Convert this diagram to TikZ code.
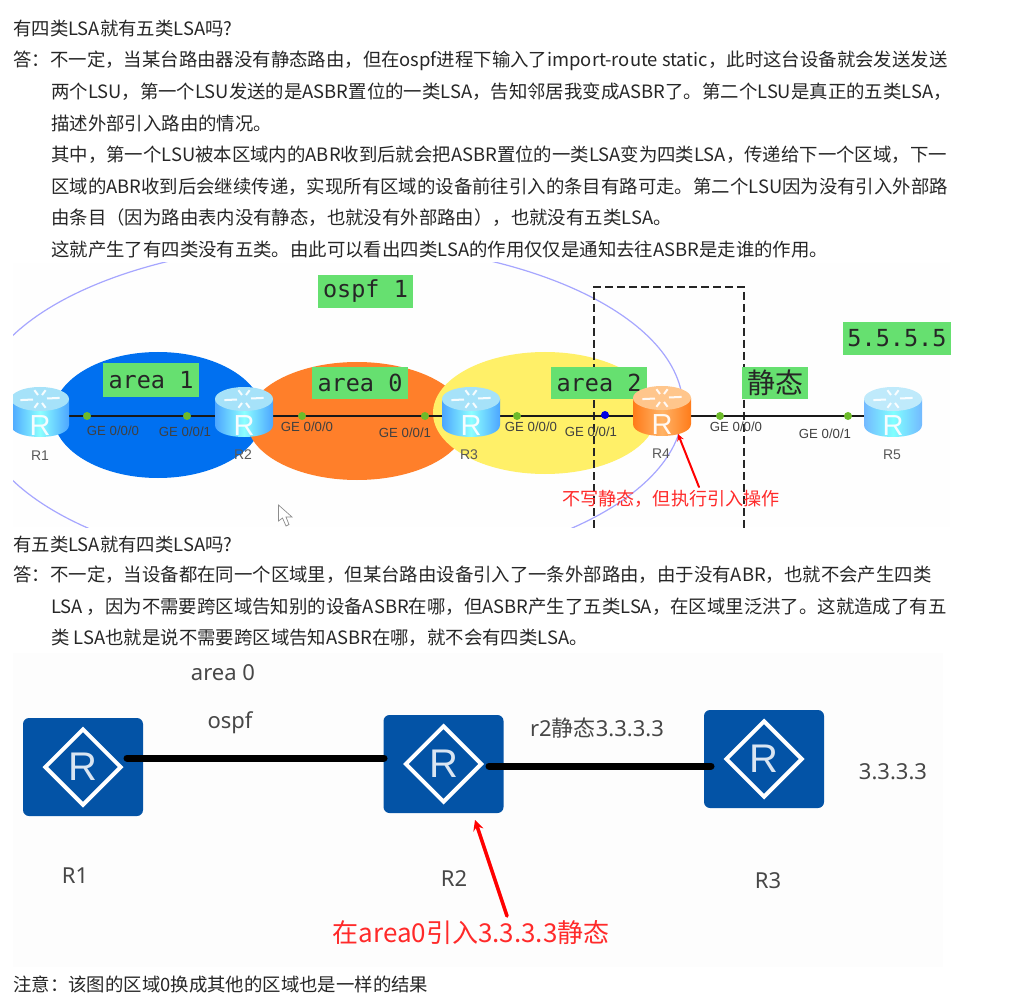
\documentclass[tikz,border=0pt]{standalone}
\usepackage{fontspec}
\setmainfont{Noto Sans CJK SC}
\newfontfamily\monofont{DejaVu Sans Mono}
\newfontfamily\arialfont{Liberation Sans}
\newfontfamily\labelfont{Noto Sans}
\usetikzlibrary{shapes.geometric}

\definecolor{tagGreen}{HTML}{66E070}
\definecolor{boxBlue}{HTML}{0353A6}
\definecolor{noteRed}{HTML}{FF2A2A}
\definecolor{dotGreen}{HTML}{6DBB2A}
\definecolor{areaBlue}{HTML}{0070F0}
\definecolor{areaOrange}{HTML}{FF7F2A}
\definecolor{areaYellow}{HTML}{FFF068}

\tikzset{
    bodyline/.style={font=\fontsize{18.4}{22}\selectfont, anchor=base west, inner sep=0pt, text=black!85},
    tag/.style={fill=tagGreen, inner sep=0pt, font=\monofont\fontsize{23.5}{26}\selectfont, text=black!85},
    portlabel/.style={font=\arialfont\fontsize{13.2}{15}\selectfont, inner sep=0pt, text=black!75},
    hostlabel/.style={font=\arialfont\fontsize{14}{16}\selectfont, inner sep=0pt, text=black!65},
    portdot/.style={circle, fill=dotGreen, minimum size=8pt, inner sep=0pt},
    bigtext/.style={font=\labelfont\fontsize{22}{26}\selectfont, inner sep=0pt, text=black!72},
    bluebox/.style={fill=boxBlue, rounded corners=6pt, minimum width=120pt, minimum height=98pt, inner sep=0pt},
    whitediamond/.style={diamond, draw=white, line width=4pt, aspect=1, minimum size=77pt, inner sep=0pt,
        text=white!85!boxBlue, font=\arialfont\fontsize{40}{42}\selectfont},
    redarrow/.style={<-, >=stealth, draw=red, line cap=round},
    pics/disk/.style n args={3}{code={
        \shade[left color=#2, right color=#2, middle color=#3]
            (-29,0)--(-29,26) .. controls (-29,42) and (29,42) .. (29,26)--(29,0)--cycle;
        \fill[#1] (0,0) ellipse [x radius=29, y radius=12];
        \foreach \a/\b in {-4/-8, 4/8, 4/-8, -4/8, -14/1, 14/-1}
            \draw[white!90!#1, line width=2pt] (\a*0.5,\b*0.5)--(\a*1.4,\b*1.1);
        \node[inner sep=0pt, text=white!92!#3, font=\arialfont\fontsize{29}{31}\selectfont] (-glyph) at (0,27) {R};
    }},
}

\begin{document}
\begin{tikzpicture}[x=1pt, y=-1pt]
    \useasboundingbox (0,0) rectangle (1018,1008);

    % text above the first picture
    \node[bodyline] (q1) at (13,35.5) {有四类LSA就有五类LSA吗?};
    \node[bodyline] (a1) at (13,66.5) {答：};
    \node[bodyline] (l1) at (50,66.5) {不一定，当某台路由器没有静态路由，但在ospf进程下输入了import-route static，此时这台设备就会发送发送};
    \node[bodyline] (l2) at (51,98.5) {两个LSU，第一个LSU发送的是ASBR置位的一类LSA，告知邻居我变成ASBR了。第二个LSU是真正的五类LSA，};
    \node[bodyline] (l3) at (51,130.5) {描述外部引入路由的情况。};
    \node[bodyline] (l4) at (51,161.5) {其中，第一个LSU被本区域内的ABR收到后就会把ASBR置位的一类LSA变为四类LSA，传递给下一个区域，下一};
    \node[bodyline] (l5) at (51,193.5) {区域的ABR收到后会继续传递，实现所有区域的设备前往引入的条目有路可走。第二个LSU因为没有引入外部路};
    \node[bodyline] (l6) at (51,224.5) {由条目（因为路由表内没有静态，也就没有外部路由），也就没有五类LSA。};
    \node[bodyline] (l7) at (51,256.5) {这就产生了有四类没有五类。由此可以看出四类LSA的作用仅仅是通知去往ASBR是走谁的作用。};

    % first picture
    \fill[black!0.4] (13,263) rectangle (950,527);
    \begin{scope}
        \clip (13,263) rectangle (951,527);
        \draw[blue!35!white, line width=1.2pt] (330,408) ellipse [x radius=353, y radius=165];
        \fill[areaBlue] (158,415) ellipse [x radius=105, y radius=63];
        \fill[areaOrange] (357,421) ellipse [x radius=110, y radius=59];
        \fill[areaYellow] (545,413) ellipse [x radius=112, y radius=61];

        \draw[line width=2.6pt, black!85, dash pattern=on 8pt off 4pt] (594,540)--(594,287)--(744,287)--(744,540);

        \coordinate (R1) at (40,416);
        \coordinate (R2) at (244,416);
        \coordinate (R3) at (471,416);
        \coordinate (R4) at (662,416);
        \coordinate (R5) at (893,416);
        \draw[line width=2.2pt, black!90] (R1)--(R2)--(R3)--(R4)--(R5);

        \foreach \px/\pname in {87/d1, 187/d2, 302/d3, 425/d4, 517/d5, 720/d6, 848/d7}
            \node[portdot] (\pname) at (\px,416) {};
        \node[portdot, fill=blue!90!black] (d8) at (605,415) {};

        \pic (r1) at (40,399) {disk={cyan!35!white}{cyan!50!blue!70!white}{cyan!45!white}};
        \pic (r2) at (244,399) {disk={cyan!35!white}{cyan!50!blue!70!white}{cyan!45!white}};
        \pic (r3) at (471,399) {disk={cyan!35!white}{cyan!50!blue!70!white}{cyan!45!white}};
        \pic (r5) at (893,399) {disk={cyan!25!white}{cyan!50!blue!55!white}{cyan!50!white}};
    \end{scope}

    \node[tag, minimum width=95pt, minimum height=33pt] (ospf) at (365.5,291.5) {ospf 1};
    \node[tag, minimum width=96pt, minimum height=34pt] (area1) at (151,380) {area 1};
    \node[tag, minimum width=96pt, minimum height=32pt] (area0) at (360,383) {area 0};
    \node[tag, minimum width=96pt, minimum height=32pt] (area2) at (599,383) {area 2};
    \node[tag, minimum width=66pt, minimum height=32pt, font=\fontsize{28}{30}\selectfont] (static) at (775,383) {静态};
    \node[tag, minimum width=108pt, minimum height=33pt] (loop5) at (897,338.5) {5.5.5.5};
    \pic (r4) at (662,398) {disk={orange!45!white}{orange!85!red!90!white}{orange!60!white}};

    \node[portlabel] (g1) at (113,431) {GE 0/0/0};
    \node[portlabel] (g2) at (185,432) {GE 0/0/1};
    \node[portlabel] (g3) at (307,427) {GE 0/0/0};
    \node[portlabel] (g4) at (405,433) {GE 0/0/1};
    \node[portlabel] (g5) at (531,427) {GE 0/0/0};
    \node[portlabel] (g6) at (591,432) {GE 0/0/1};
    \node[portlabel] (g7) at (736,427) {GE 0/0/0};
    \node[portlabel] (g8) at (825,434) {GE 0/0/1};

    \node[hostlabel] (n1) at (40,456) {R1};
    \node[hostlabel] (n2) at (243,455) {R2};
    \node[hostlabel] (n3) at (469,455) {R3};
    \node[hostlabel] (n4) at (661,454) {R4};
    \node[hostlabel] (n5) at (892,455) {R5};

    \node[inner sep=0pt, text=noteRed, font=\fontsize{18.1}{20}\selectfont] (note1) at (671,499) {不写静态，但执行引入操作};
    \coordinate (tip1) at (678,434);
    \coordinate (tail1) at (699,487);
    \draw[redarrow, line width=2pt] (tip1)--(tail1);

    % mouse pointer
    \draw[black!45, fill=white, line width=0.7pt] (278.5,505)--(278.5,521)--(282.5,518)--(286,526)--(289,524.5)--(286,517)--(292,517)--cycle;

    % text between the pictures
    \node[bodyline] (q2) at (13,551.5) {有五类LSA就有四类LSA吗?};
    \node[bodyline] (a2) at (13,581.5) {答：};
    \node[bodyline] (m1) at (50,581.5) {不一定，当设备都在同一个区域里，但某台路由设备引入了一条外部路由，由于没有ABR，也就不会产生四类};
    \node[bodyline] (m2) at (51,613.5) {LSA ，因为不需要跨区域告知别的设备ASBR在哪，但ASBR产生了五类LSA，在区域里泛洪了。这就造成了有五};
    \node[bodyline] (m3) at (51,644.5) {类 LSA也就是说不需要跨区域告知ASBR在哪，就不会有四类LSA。};

    % second picture
    \fill[black!0.6] (13,653) rectangle (943,967);
    \node[bluebox] (B1) at (83,767) {};
    \node[bluebox] (B2) at (443.5,764) {};
    \node[bluebox] (B3) at (764,759) {};
    \node[whitediamond] (D1) at (83,767) {R};
    \node[whitediamond] (D2) at (443.5,764) {R};
    \node[whitediamond] (D3) at (764,759) {R};

    \coordinate (p1) at (127,758);
    \coordinate (p2) at (384,758);
    \coordinate (p3) at (489,766);
    \coordinate (p4) at (711,766);
    \draw[line width=7pt, line cap=round] (p1)--(p2);
    \draw[line width=7pt, line cap=round] (p3)--(p4);

    \node[bigtext] (t1) at (223,673) {area 0};
    \node[bigtext] (t2) at (230,723) {ospf};
    \node[bigtext] (t3) at (597,728) {r2{\rmfamily 静态}3.3.3.3};
    \node[bigtext] (t4) at (893,772) {3.3.3.3};
    \node[bigtext] (t5) at (75,876) {R1};
    \node[bigtext] (t6) at (454,879) {R2};
    \node[bigtext] (t7) at (768,881) {R3};

    \node[inner sep=0pt, text=noteRed, font=\fontsize{26}{30}\selectfont] (note2) at (471,933) {在area0引入3.3.3.3静态};
    \coordinate (tip2) at (475,820);
    \coordinate (tail2) at (507,916);
    \draw[redarrow, line width=3.5pt] (tip2)--(tail2);

    \node[bodyline] (foot) at (13,991) {注意：该图的区域0换成其他的区域也是一样的结果};
\end{tikzpicture}
\end{document}
